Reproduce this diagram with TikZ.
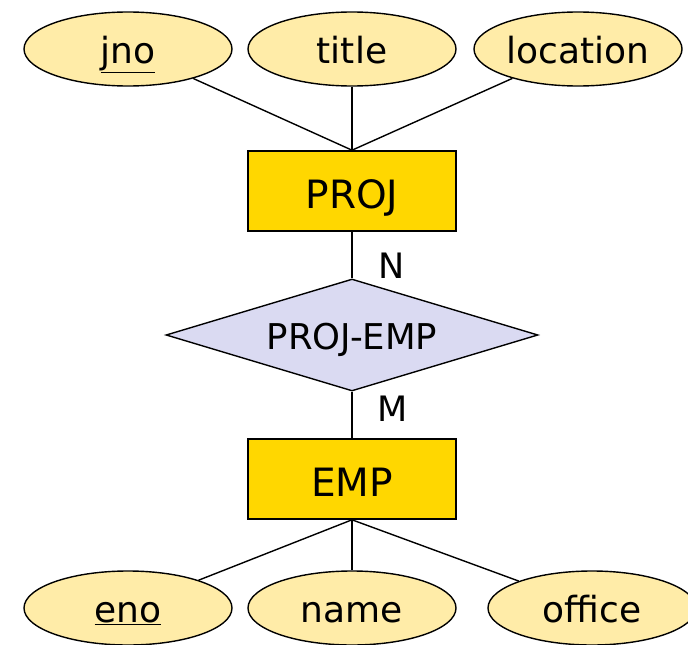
\documentclass[tikz,border=0pt]{standalone}
\usepackage{fontspec}
\setmainfont{DejaVu Sans}
\usetikzlibrary{shapes.geometric}
\definecolor{attrfill}{HTML}{FFECA8}
\definecolor{entfill}{HTML}{FFD700}
\definecolor{relfill}{HTML}{DADAF2}
\tikzset{
  attr/.style={draw, ellipse, fill=attrfill, line width=1.4pt, minimum width=208pt, minimum height=74pt, inner sep=0pt, text height=29pt, text depth=0pt, font=\fontsize{36}{40}\selectfont},
  entity/.style={draw, rectangle, fill=entfill, line width=1.6pt, minimum width=208pt, minimum height=80pt, inner sep=0pt, text height=34pt, text depth=0pt, font=\fontsize{39}{40}\selectfont},
  rel/.style={draw, diamond, fill=relfill, line width=1.4pt, aspect=3.3, minimum width=372pt, minimum height=112pt, inner sep=0pt, text height=28pt, text depth=0pt, font=\fontsize{35.5}{40}\selectfont},
  card/.style={font=\fontsize{35}{40}\selectfont, inner sep=0pt}
}
\begin{document}
\begin{tikzpicture}[x=1pt, y=-1pt, line width=1.4pt]
\useasboundingbox (0,0) rectangle (688,645);
\node[attr] (jno) at (128,49) {\underline{jno}};
\node[attr] (title) at (352,49) {title};
\node[attr] (location) at (578,49) {location};
\node[entity] (proj) at (352,191) {PROJ};
\node[rel] (projemp) at (352,335) {PROJ-EMP};
\node[entity] (emp) at (352,479) {EMP};
\node[attr] (eno) at (128,608) {\underline{eno}};
\node[attr] (name) at (352,608) {name};
\node[attr] (office) at (592,608) {office};

\node[card] (n) at (392,266) {N};
\node[card] (m) at (393,409) {M};

\draw (jno)--(proj.north);
\draw (title)--(proj.north);
\draw (location)--(proj.north);
\draw (proj)--(projemp);
\draw (projemp)--(emp);
\draw (emp.south)--(eno);
\draw (emp.south)--(name);
\draw (emp.south)--(office);
\end{tikzpicture}
\end{document}
